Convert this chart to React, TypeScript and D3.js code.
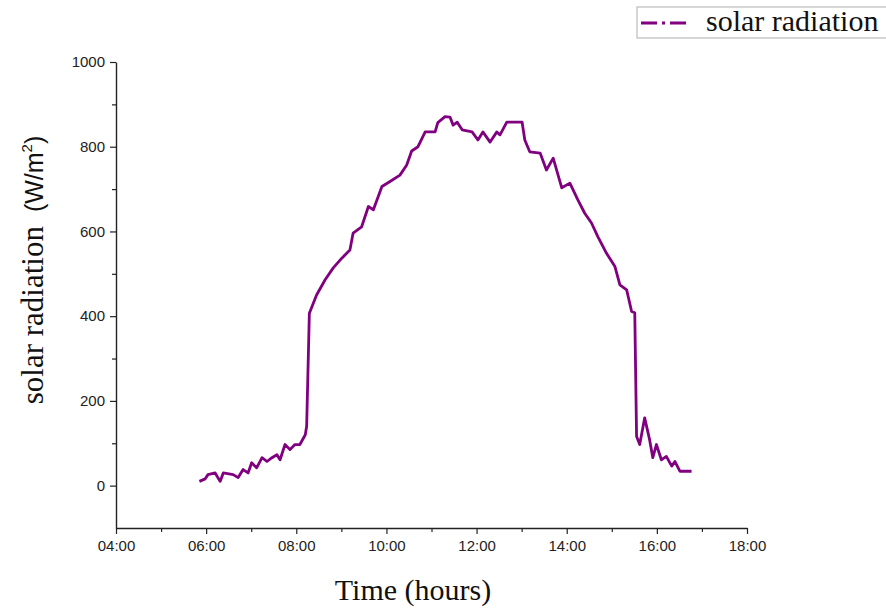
import React, { useRef, useEffect } from 'react';
import * as d3 from 'd3';

// time of day in decimal hours, radiation in W/m2
const hours = [
  5.85, 5.98, 6.04, 6.2, 6.31, 6.38, 6.6, 6.71, 6.82, 6.93,
  7.01, 7.12, 7.24, 7.35, 7.46, 7.57, 7.64, 7.75, 7.86, 7.97,
  8.08, 8.2, 8.23, 8.29, 8.45, 8.64, 8.82, 9.01, 9.19, 9.26,
  9.45, 9.6, 9.71, 9.9, 10.08, 10.3, 10.45, 10.56, 10.7, 10.86,
  11.08, 11.14, 11.3, 11.41, 11.48, 11.57, 11.68, 11.9, 12.03, 12.14,
  12.3, 12.45, 12.52, 12.67, 13.01, 13.07, 13.18, 13.41, 13.55, 13.7,
  13.89, 14.07, 14.25, 14.4, 14.55, 14.69, 14.88, 15.07, 15.18, 15.33,
  15.44, 15.51, 15.55, 15.62, 15.73, 15.84, 15.91, 15.99, 16.1, 16.21,
  16.33, 16.4, 16.51, 16.77,
];
const radiation = [
  10, 16, 26, 30, 10, 30, 26, 19, 38, 30,
  54, 42, 66, 57, 66, 73, 61, 97, 85, 97,
  97, 120, 140, 407, 450, 486, 514, 537, 556, 596,
  611, 659, 651, 706, 718, 733, 757, 790, 800, 835,
  835, 857, 871, 870, 851, 858, 840, 835, 816, 835,
  811, 835, 828, 858, 858, 816, 788, 785, 745, 773,
  703, 714, 674, 643, 620, 588, 549, 517, 474, 462,
  411, 408, 116, 97, 160, 108, 66, 97, 61, 69,
  46, 57, 34, 34,
];
const xTicks = [4, 6, 8, 10, 12, 14, 16, 18];
const yTicks = [0, 200, 400, 600, 800, 1000];
const seriesName = 'solar radiation';

const lineColor = '#800080';

export default function App() {
  const svgRef = useRef<SVGSVGElement>(null);

  useEffect(() => {
    const width = 886;
    const height = 609;
    const svg = d3.select(svgRef.current);
    svg.selectAll('*').remove();

    const xScale = d3.scaleLinear().domain([4, 18]).range([116, 747]);
    const yScale = d3.scaleLinear().domain([-100, 1000]).range([528, 62]);

    // x axis
    const xAxis = svg.append('g').attr('transform', `translate(0, ${yScale(-100)})`);
    xAxis.call(
      d3.axisBottom(xScale)
        .tickValues(xTicks)
        .tickFormat(d => `${String(d).padStart(2, '0')}:00`)
        .tickSize(6)
        .tickSizeOuter(0)
        .tickPadding(6)
    );
    xAxis.append('g').call(
      d3.axisBottom(xScale)
        .tickValues(d3.range(5, 18, 2))
        .tickFormat(() => '')
        .tickSize(4)
        .tickSizeOuter(0)
    ).select('.domain').remove();

    // y axis
    const yAxis = svg.append('g').attr('transform', `translate(${xScale(4)}, 0)`);
    yAxis.call(
      d3.axisLeft(yScale)
        .tickValues(yTicks)
        .tickFormat(d3.format('d'))
        .tickSize(6)
        .tickSizeOuter(0)
        .tickPadding(5)
    );
    yAxis.append('g').call(
      d3.axisLeft(yScale)
        .tickValues(d3.range(100, 1000, 200))
        .tickFormat(() => '')
        .tickSize(4)
        .tickSizeOuter(0)
    ).select('.domain').remove();

    svg.selectAll('.domain').attr('stroke', '#222').attr('stroke-width', 1.4);
    svg.selectAll('.tick line').attr('stroke', '#222').attr('stroke-width', 1.2);
    svg.selectAll('.tick text')
      .attr('font-family', 'Liberation Sans, Arial, sans-serif')
      .attr('font-size', 15)
      .attr('fill', '#222');

    // data line
    const points = hours.map((h, i) => [h, radiation[i]] as [number, number]);
    const line = d3.line<[number, number]>()
      .x(d => xScale(d[0]))
      .y(d => yScale(d[1]))
      .curve(d3.curveLinear);
    svg.append('path')
      .datum(points)
      .attr('d', line)
      .attr('fill', 'none')
      .attr('stroke', lineColor)
      .attr('stroke-width', 2.8)
      .attr('stroke-linejoin', 'round');

    // axis titles
    svg.append('text')
      .attr('x', 413)
      .attr('y', 600)
      .attr('text-anchor', 'middle')
      .attr('font-family', 'Liberation Serif, Times New Roman, serif')
      .attr('font-size', 30)
      .attr('fill', '#111')
      .text('Time (hours)');

    const yTitle = svg.append('text')
      .attr('transform', `translate(43, 270) rotate(-90)`)
      .attr('text-anchor', 'middle')
      .attr('font-family', 'Liberation Serif, Times New Roman, serif')
      .attr('font-size', 31)
      .attr('fill', '#111');
    yTitle.append('tspan').text('solar radiation');
    yTitle.append('tspan').attr('dx', 14).attr('font-family', 'Liberation Sans, Arial, sans-serif').attr('font-size', 25).text('(W/m');
    yTitle.append('tspan').attr('font-family', 'Liberation Sans, Arial, sans-serif').attr('font-size', 15).attr('dy', -11).text('2');
    yTitle.append('tspan').attr('font-family', 'Liberation Sans, Arial, sans-serif').attr('font-size', 25).attr('dy', 11).text(')');

    // legend
    const legend = svg.append('g');
    legend.append('rect')
      .attr('x', 637).attr('y', 7).attr('width', 270).attr('height', 31)
      .attr('fill', 'none').attr('stroke', '#bbb').attr('stroke-width', 1.2);
    legend.append('line')
      .attr('x1', 641).attr('x2', 693).attr('y1', 23).attr('y2', 23)
      .attr('stroke', lineColor).attr('stroke-width', 2.8)
      .attr('stroke-dasharray', '16,5,3,5,16');
    legend.append('text')
      .attr('x', 706).attr('y', 31)
      .attr('font-family', 'Liberation Serif, Times New Roman, serif')
      .attr('font-size', 30)
      .attr('fill', '#111')
      .text(seriesName);

    svg.attr('width', width).attr('height', height);
  }, []);

  return (
    <svg
      ref={svgRef}
      width={886}
      height={609}
      style={{ position: 'absolute', left: 0, top: 0, background: '#fff' }}
    />
  );
}
